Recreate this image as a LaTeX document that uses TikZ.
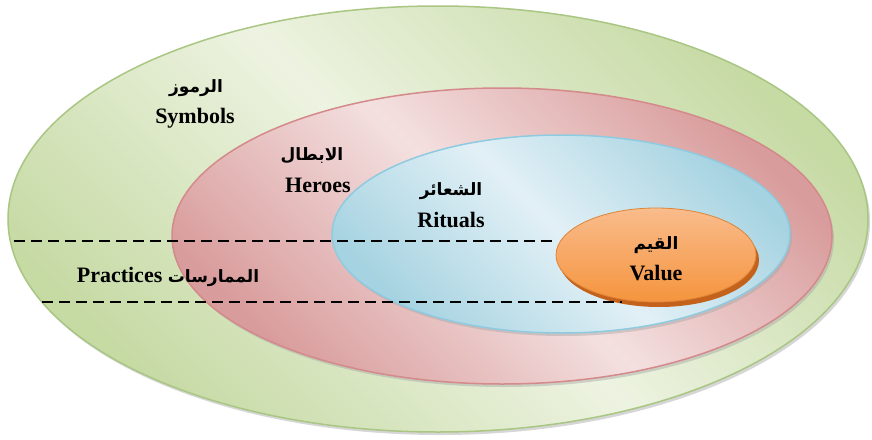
\documentclass[tikz,border=0pt]{standalone}
\usepackage{fontspec}
\setmainfont{Liberation Serif}
\newfontfamily\arabicfont[Script=Arabic]{DejaVu Sans}
\TeXXeTstate=1
\begin{document}
\begin{tikzpicture}[x=1pt,y=-1pt,
  lbl/.style={font=\fontsize{22}{26}\selectfont\bfseries, align=center, inner sep=0pt},
  arlbl/.style={font=\arabicfont\fontsize{17}{20}\selectfont\bfseries, inner sep=0pt},
  dashline/.style={black, line width=1.3pt, dash pattern=on 11pt off 6pt},
  shadowell/.style={fill=black!35, opacity=0.45}
]
\definecolor{gLight}{HTML}{EDF3E1}
\definecolor{gDark}{HTML}{C6DAA4}
\definecolor{gBorder}{HTML}{A9C683}
\definecolor{rLight}{HTML}{F4E0E0}
\definecolor{rDark}{HTML}{D99C9C}
\definecolor{rBorder}{HTML}{D4898A}
\definecolor{bLight}{HTML}{E2F0F6}
\definecolor{bDark}{HTML}{A6D3E1}
\definecolor{bBorder}{HTML}{8FCBE0}
\definecolor{oLight}{HTML}{F9BC8C}
\definecolor{oMid}{HTML}{F5943E}
\definecolor{oDark}{HTML}{C4621C}
\useasboundingbox (0,0) rectangle (872,439);
\fill[white] (0,0) rectangle (872,439);
% outer (symbols)
\fill[shadowell] (440,222) ellipse [x radius=430, y radius=213];
\shade[top color=gDark, bottom color=gDark, middle color=gLight, shading angle=-45]
  (438,219) ellipse [x radius=430, y radius=213];
\draw[gBorder, line width=1.5pt] (438,219) ellipse [x radius=430, y radius=213];
% heroes
\fill[shadowell] (504,239) ellipse [x radius=330, y radius=148];
\shade[top color=rDark, bottom color=rDark, middle color=rLight, shading angle=-45]
  (502,236) ellipse [x radius=330, y radius=148];
\draw[rBorder, line width=1.5pt] (502,236) ellipse [x radius=330, y radius=148];
% rituals
\fill[shadowell] (563,237) ellipse [x radius=229, y radius=99];
\shade[top color=bDark, bottom color=bDark, middle color=bLight, shading angle=-45]
  (561,234) ellipse [x radius=229, y radius=99];
\draw[bBorder, line width=1.5pt] (561,234) ellipse [x radius=229, y radius=99];
% value
\fill[oDark] (659,260) ellipse [x radius=100, y radius=47];
\shade[top color=oLight, bottom color=oMid]
  (656,255) ellipse [x radius=100, y radius=47];
\draw[oMid!90!black, line width=0.8pt] (656,255) ellipse [x radius=100, y radius=47];
% dashed lines
\coordinate (d1a) at (14,241);
\coordinate (d1b) at (556,241);
\coordinate (d2a) at (42,302);
\coordinate (d2b) at (622,302);
\draw[dashline] (d1a) -- (d1b);
\draw[dashline] (d2a) -- (d2b);
% labels
\node[arlbl] (symAr) at (196,88) {\beginR الرموز\endR};
\node[lbl] (sym) at (195,118) {Symbols};
\node[arlbl] (herAr) at (312,156) {\beginR الابطال\endR};
\node[lbl] (her) at (318,185) {Heroes};
\node[arlbl] (ritAr) at (451,191) {\beginR الشعائر\endR};
\node[lbl] (rit) at (451,220) {Rituals};
\node[arlbl] (valAr) at (656,245) {\beginR القيم\endR};
\node[lbl] (val) at (656,273) {Value};
\node[lbl] (prac) at (168,277) {Practices {\arabicfont\fontsize{17}{20}\selectfont\bfseries\beginR الممارسات\endR}};
\end{tikzpicture}
\end{document}
